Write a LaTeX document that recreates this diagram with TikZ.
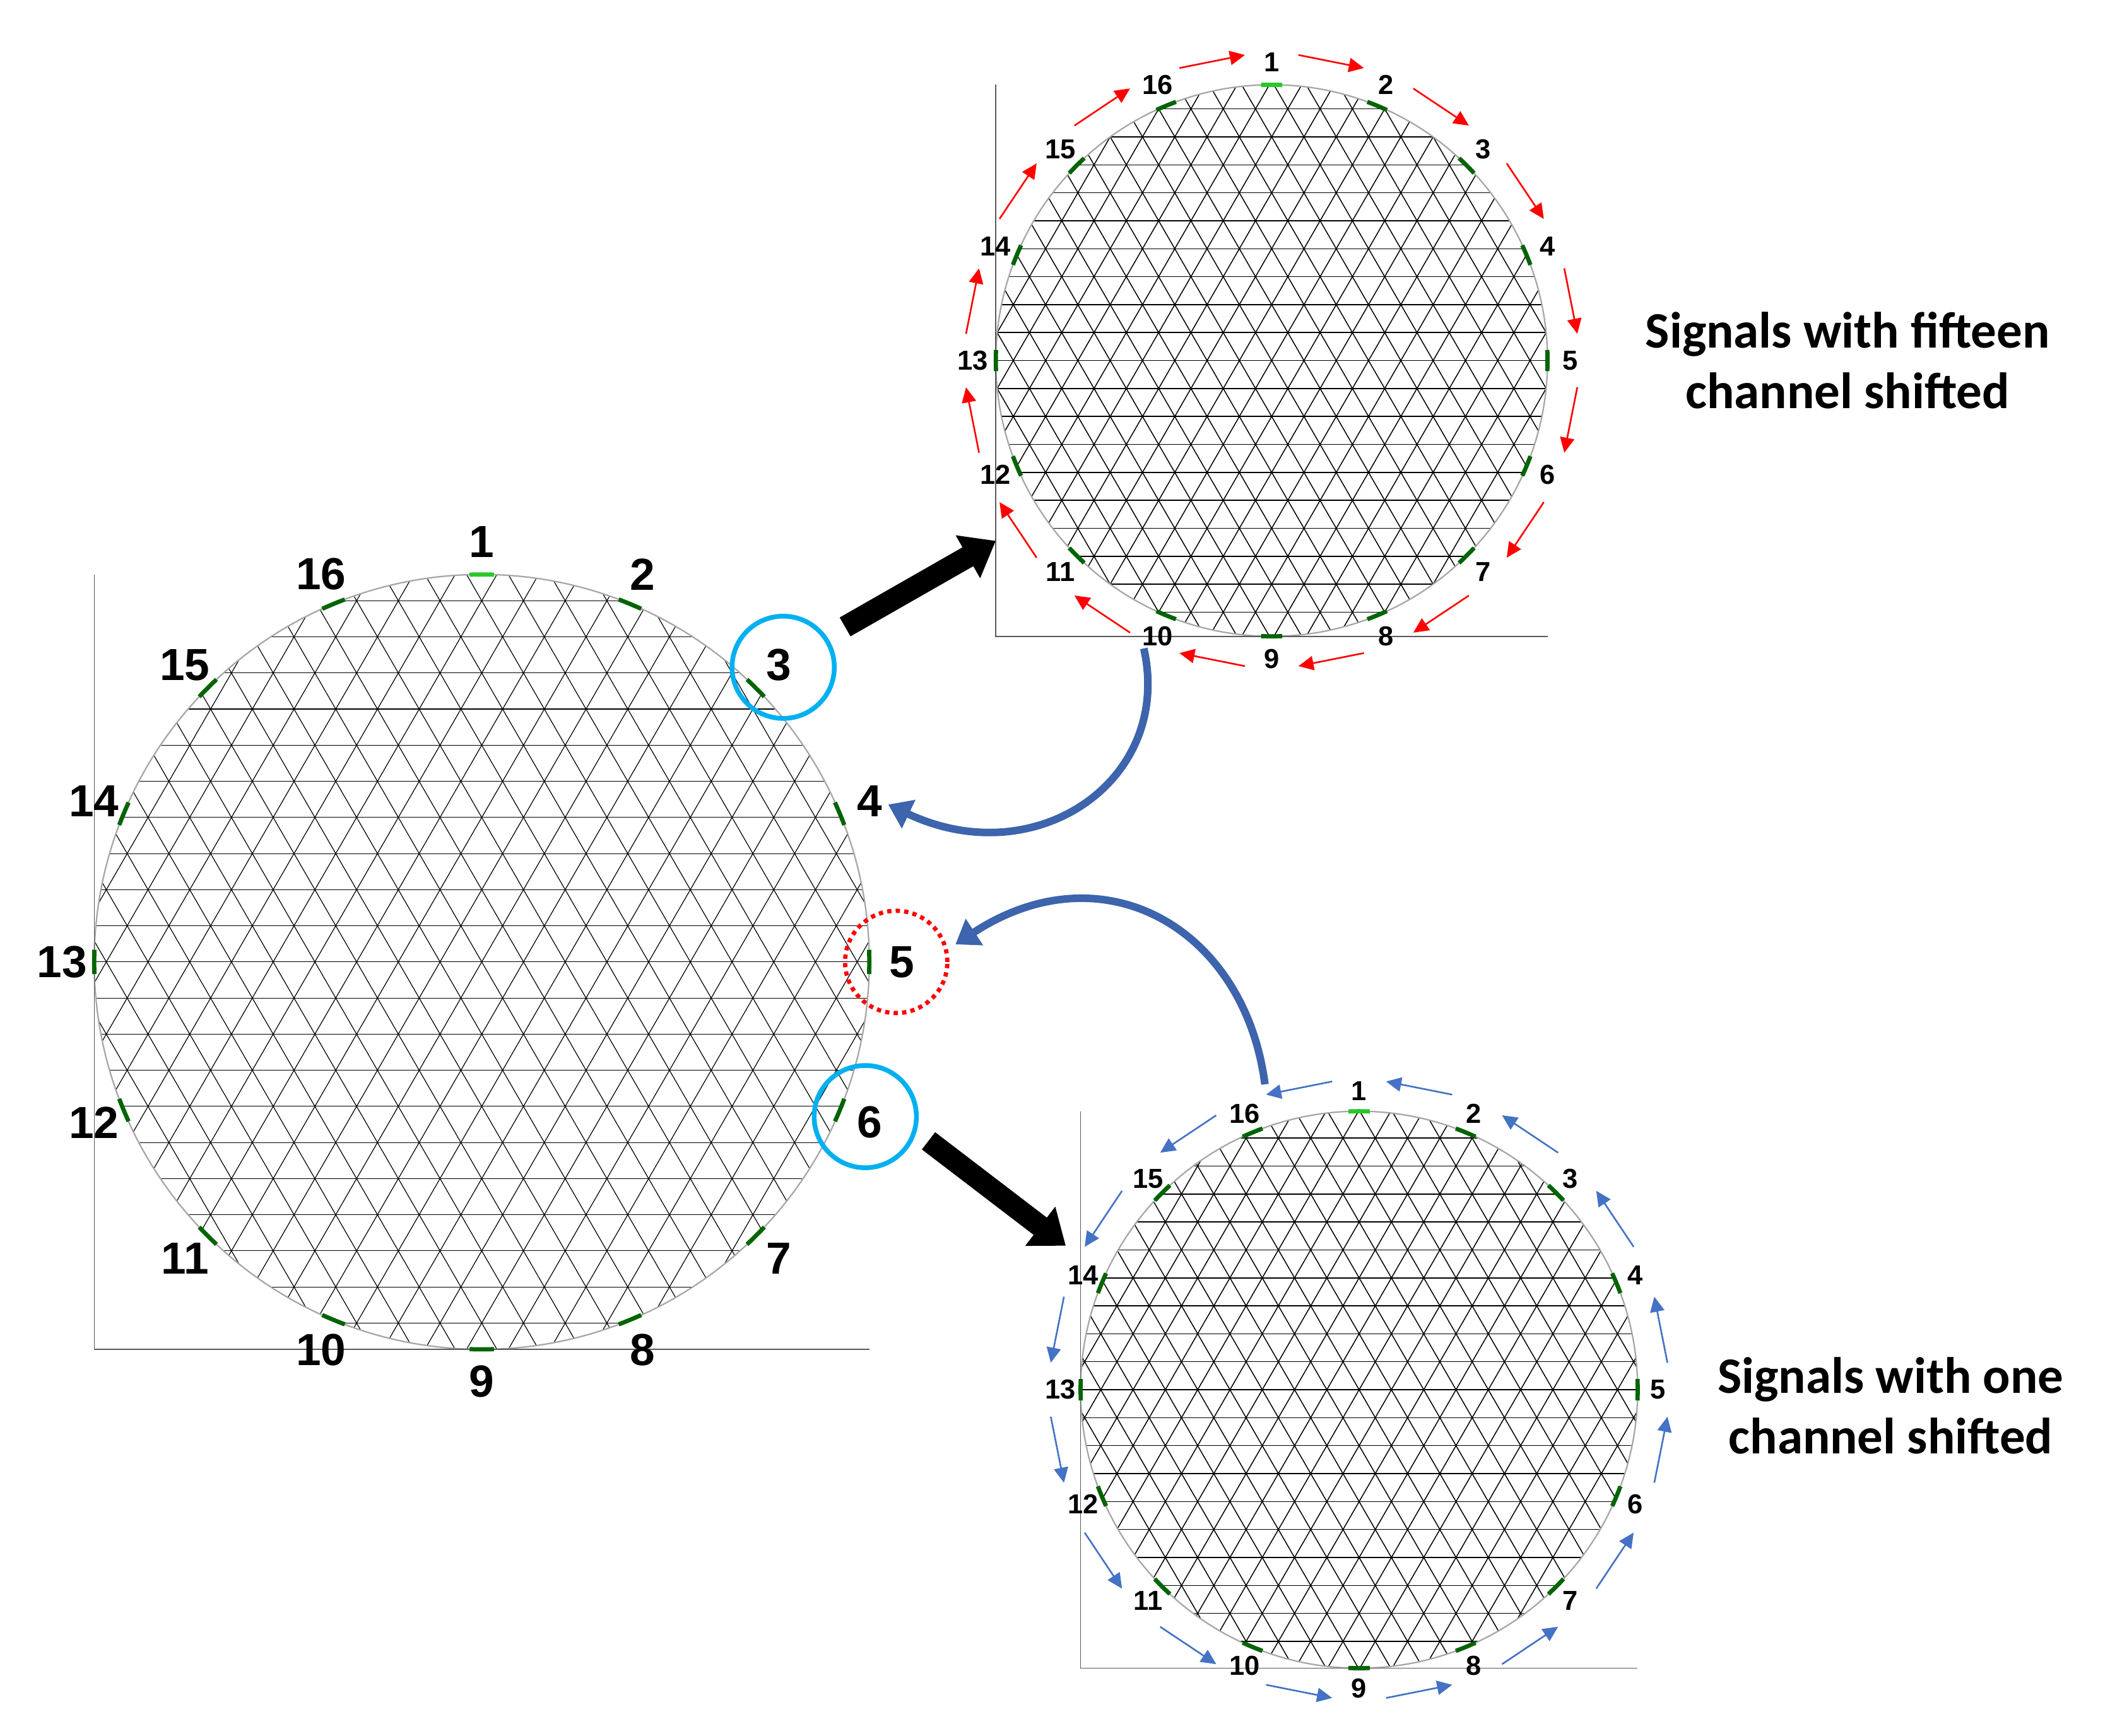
\documentclass[tikz,border=0pt]{standalone}
\usepackage{fontspec}
\setmainfont{Liberation Sans}
\newfontfamily\calib{Carlito}
\usetikzlibrary{arrows.meta}
\definecolor{lblue}{RGB}{0,176,240}
\definecolor{dblue}{RGB}{61,100,172}
\definecolor{abl}{RGB}{68,114,196}
\definecolor{egreen}{RGB}{0,100,0}
\definecolor{lgreen}{RGB}{40,200,40}
\tikzset{
  meshl/.style={black,line width=#1},
  axis/.style={gray!70!black,line width=2pt},
  rim/.style={gray!70,line width=3pt},
  elec/.style={egreen,line width=9pt},
  biglab/.style={font=\fontsize{95}{95}\selectfont\bfseries},
  smlab/.style={font=\fontsize{58}{58}\selectfont\bfseries},
  bluering/.style={lblue,line width=10pt},
  blockarrow/.style={black,line width=46pt,-{Triangle[width=100pt,length=68pt]}},
  curvarrow/.style={dblue,line width=16pt,-{Triangle[width=64pt,length=48pt]}},
  ringarrow/.style={line width=3.5pt,-{Triangle[width=30pt,length=32pt]}},
  caption/.style={font=\calib\fontsize{108}{128}\selectfont\bfseries,align=center}
}
\newcommand{\meshcirc}[6]{%
  \begin{scope}
    \clip (#1,#2) circle[radius=#3];
    \foreach \r in {0,60,120}{
      \begin{scope}[shift={(#1,#2)},rotate=\r]
        \foreach \k in {-14,...,14}{
          \draw[meshl=#5] (-#3-10,{\k*#4*0.866}) -- (#3+10,{\k*#4*0.866});
        }
      \end{scope}
    }
  \end{scope}
  \draw[rim] (#1,#2) circle[radius=#3];
  \draw[axis] (#1-#3,#2-#3) -- (#1-#3,#2+#3) -- (#1+#3,#2+#3);
  \foreach \k in {1,...,16}{
    \pgfmathsetmacro{\a}{-90+(\k-1)*22.5}
    \ifnum\k=1 \def\ec{lgreen}\else\def\ec{egreen}\fi
    \draw[elec,color=\ec] ([shift={({\a-#6}:#3)}]#1,#2) arc[start angle={\a-#6},end angle={\a+#6},radius=#3];
  }
}
\begin{document}
\begin{tikzpicture}[x=1mm,y=-1mm]
\useasboundingbox (0,0) rectangle (1568,1290);
\fill[white] (0,0) rectangle (1568,1290);
\meshcirc{358}{715}{288}{31}{1.6pt}{1.8}
\foreach \k in {1,...,16}{
  \pgfmathsetmacro{\a}{-90+(\k-1)*22.5}
  \node[biglab] (B\k) at ([shift={(\a:312)}]358,715) {\k};
}
\meshcirc{945}{268}{205}{24}{2pt}{2.2}
\foreach \k in {1,...,16}{
  \pgfmathsetmacro{\a}{-90+(\k-1)*22.5}
  \node[smlab] (T\k) at ([shift={(\a:222)}]945,268) {\k};
  \pgfmathsetmacro{\s}{\a+5}
  \pgfmathsetmacro{\e}{\a+17.5}
  \draw[ringarrow,red] ([shift={(\s:228)}]945,268) -- ([shift={(\e:228)}]945,268);
}
\meshcirc{1010}{1033}{207}{24}{2pt}{2.2}
\foreach \k in {1,...,16}{
  \pgfmathsetmacro{\a}{-90+(\k-1)*22.5}
  \node[smlab] (R\k) at ([shift={(\a:222)}]1010,1033) {\k};
  \pgfmathsetmacro{\s}{\a-5}
  \pgfmathsetmacro{\e}{\a-17.5}
  \draw[ringarrow,abl] ([shift={(\s:230)}]1010,1033) -- ([shift={(\e:230)}]1010,1033);
}
\node[bluering,circle,minimum size=76mm,draw] (C3) at (582,496) {};
\node[bluering,circle,minimum size=76mm,draw] (C6) at (643,830) {};
\node[red,line width=9pt,dash pattern=on 9pt off 9pt,circle,minimum size=76mm,draw] (C5) at (666,715) {};
\coordinate (a1s) at (628,466); \coordinate (a1e) at (740,402);
\coordinate (a2s) at (690,848); \coordinate (a2e) at (792,926);
\draw[blockarrow] (a1s) -- (a1e);
\draw[blockarrow] (a2s) -- (a2e);
\coordinate (c1s) at (850,482); \coordinate (c1e) at (660,598);
\coordinate (c2s) at (940,806); \coordinate (c2e) at (710,702);
\draw[curvarrow] (c1s) .. controls (872,580) and (770,650) .. (c1e);
\draw[curvarrow] (c2s) .. controls (925,690) and (820,630) .. (c2e);
\node[caption] (L1) at (1373,268) {Signals with fifteen\\channel shifted};
\node[caption] (L2) at (1405,1045) {Signals with one\\channel shifted};
\end{tikzpicture}
\end{document}
